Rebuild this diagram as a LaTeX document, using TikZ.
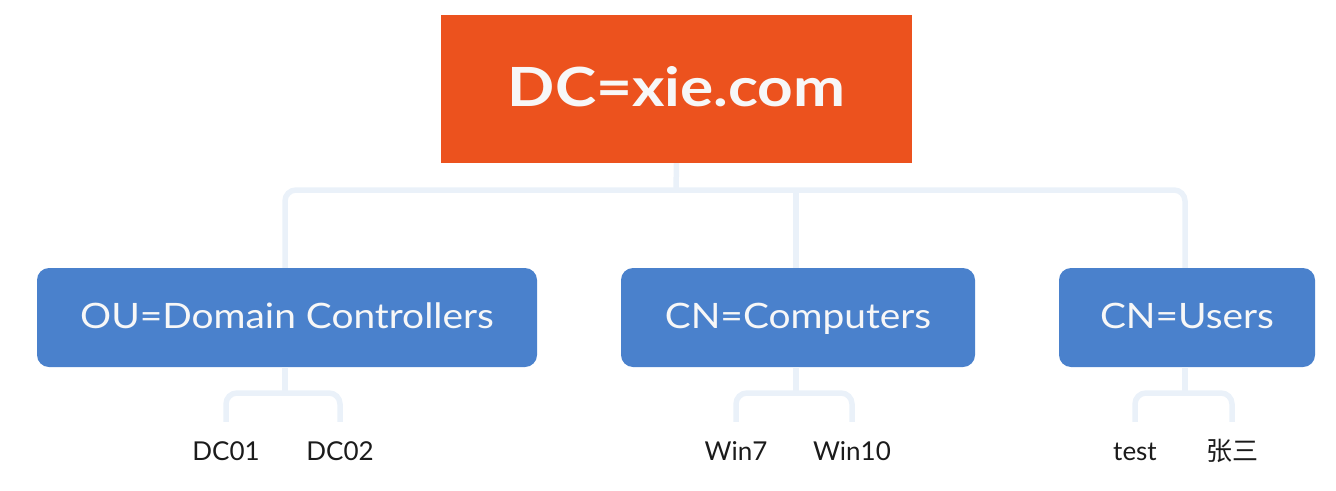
\documentclass[tikz,border=0pt]{standalone}
\usepackage{fontspec}
\setmainfont{Lato}
\newfontfamily\titlefont[FakeStretch=1.15]{Lato}
\newfontfamily\childfont[FakeStretch=1.11]{Lato}
\newfontfamily\cjkfont{Noto Sans CJK SC}
\definecolor{rootc}{HTML}{EC521E}
\definecolor{boxc}{HTML}{4A81CC}
\definecolor{linec}{HTML}{EAF1F9}
\definecolor{txtc}{HTML}{1B1B1B}
\definecolor{wtxt}{HTML}{F7F7F7}
\tikzset{
  rootbox/.style={fill=rootc, text=wtxt, minimum width=471, minimum height=148, inner sep=0, text height=39, text depth=5, font=\titlefont\fontsize{54}{60}\selectfont\bfseries},
  childbox/.style={fill=boxc, text=wtxt, rounded corners=12, minimum height=99, inner sep=0, text height=25, text depth=4, font=\childfont\fontsize{35}{40}\selectfont},
  leaf/.style={text=txtc, minimum height=56, inner sep=0, text height=20, text depth=0, font=\fontsize{26}{30}\selectfont},
  conn/.style={draw=linec, line width=5.5, rounded corners=11},
}
\begin{document}
\begin{tikzpicture}[x=1pt,y=-1pt]
\useasboundingbox (0,0) rectangle (1336,490);
\coordinate (hub) at (676,190);
\coordinate (ouh) at (285,393);
\coordinate (cnh) at (796,393);
\coordinate (ush) at (1185,393);
\node[rootbox] (root) at (676.5,89) {DC=xie.com};
\node[childbox, minimum width=500] (ou) at (287,317.5) {OU=Domain Controllers};
\node[childbox, minimum width=354] (cn) at (798,317.5) {CN=Computers};
\node[childbox, minimum width=256] (us) at (1187,317.5) {CN=Users};
\node[leaf] (dc1) at (226,450) {DC01};
\node[leaf] (dc2) at (340,450) {DC02};
\node[leaf] (w7) at (736,450) {Win7};
\node[leaf] (w10) at (852,450) {Win10};
\node[leaf] (t) at (1135,450) {test};
\node[leaf] (zs) at (1232,450) {\cjkfont 张三};
\draw[conn] (root.south) -- (hub);
\draw[conn] ([xshift=-2]ou.north) |- (hub) -| ([xshift=-2]us.north);
\draw[conn] ([xshift=-2]cn.north) -- ([xshift=-2]cn.north |- hub);
\draw[conn] ([xshift=-2]ou.south) -- (ouh);
\draw[conn] (dc1.north) |- (ouh) -| (dc2.north);
\draw[conn] ([xshift=-2]cn.south) -- (cnh);
\draw[conn] (w7.north) |- (cnh) -| (w10.north);
\draw[conn] ([xshift=-2]us.south) -- (ush);
\draw[conn] (t.north) |- (ush) -| (zs.north);
\end{tikzpicture}
\end{document}
